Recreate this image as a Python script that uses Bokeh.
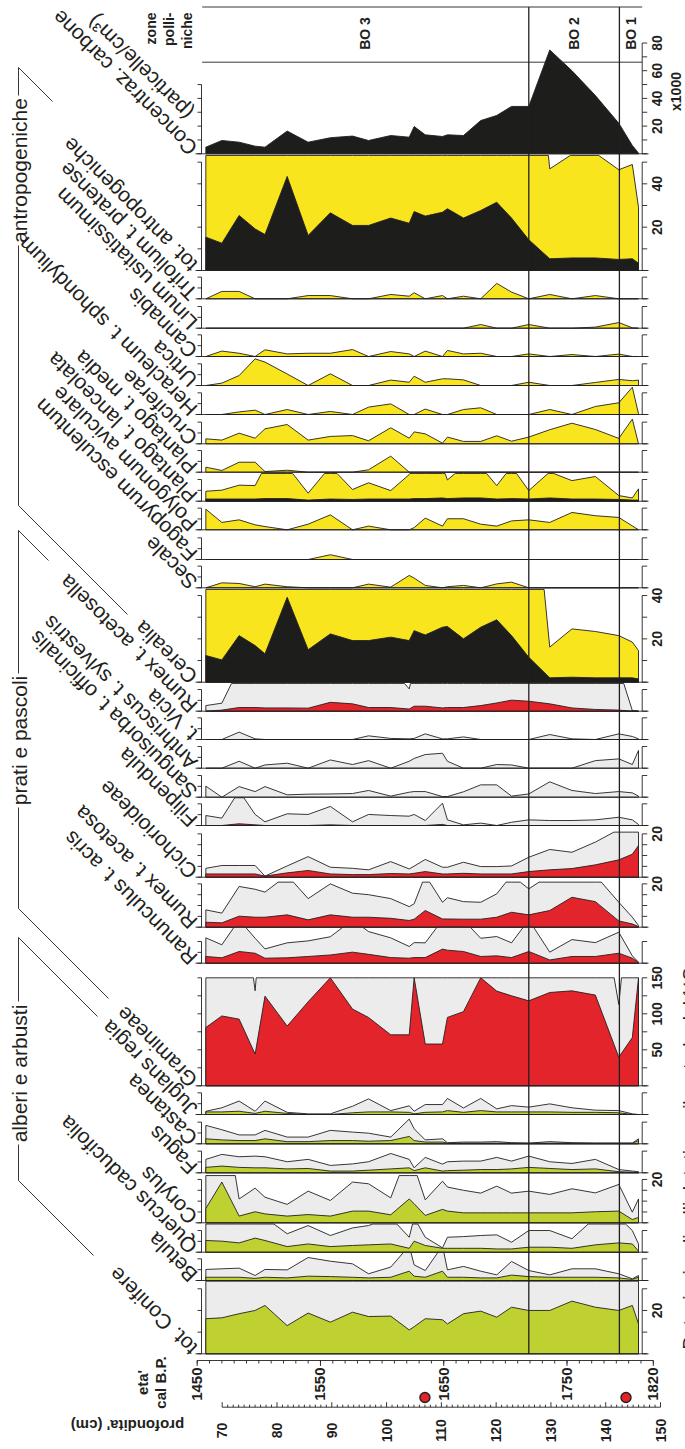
import numpy as np
from bokeh.plotting import figure
from bokeh.models import Range1d
from bokeh.embed import file_html
from bokeh.resources import INLINE
from bokeh.core.properties import value

# ---------------- data ----------------
AGE = [1457, 1470, 1484, 1497, 1505, 1523, 1540, 1558, 1576, 1589,
       1607, 1622, 1626, 1635, 1649, 1653, 1666, 1680, 1693, 1705,
       1719, 1736, 1754, 1773, 1792, 1803, 1808]

carbone = [4.8, 9.6, 8.4, 5.5, 4.8, 16.4, 8.4, 11.6, 12.8, 9.6,
           13.2, 12.0, 19.7, 13.7, 12.5, 13.7, 13.2, 24.0, 27.7, 34.2,
           34.2, 75.0, 60.0, 42.1, 22.1, 6.0, 0.5]
antrop = [15.4, 12.6, 25.4, 19.2, 16.6, 43.4, 16.2, 26.6, 20.8, 20.8,
          24.2, 21.8, 27.2, 25.1, 26.9, 28.5, 24.2, 27.7, 31.5, 24.2,
          14.2, 5.4, 5.8, 5.8, 5.1, 5.4, 3.4]
antrop_x = [150, 150, 150, 150, 150, 150, 150, 150, 150, 150,
            150, 150, 150, 150, 150, 150, 150, 150, 150, 150,
            142, 46.9, 53.6, 54.2, 46.5, 48.9, 29.2]
trifolium = [0, 3.4, 3.4, 0, 0, 0, 1.5, 1.5, 0, 0,
             2.0, 1.2, 2.8, 0, 1.5, 0, 1.2, 0, 7.1, 3.1,
             0, 2.0, 0, 1.5, 0, 0, 0]
linum = [0, 0, 0, 0, 0, 0, 0, 0, 0, 0,
         0, 0, 0, 0, 0, 0, 0, 1.7, 0, 0,
         1.7, 0, 0, 0.5, 2.6, 0.2, 0]
cannabis = [0, 2.5, 1.5, 0, 3.1, 1.2, 1.5, 1.5, 3.2, 0,
            2.3, 1.2, 0, 2.5, 0, 2.8, 1.2, 1.5, 0, 0,
            1.2, 0, 0.9, 0, 1.1, 0, 0]
urtica = [0, 1.1, 4.6, 12.3, 10.8, 5.3, 0, 5.4, 0, 0,
          2.5, 1.5, 4.3, 1.5, 3.1, 3.1, 2.6, 0, 0, 0,
          1.5, 0, 0, 1.4, 2.8, 2.2, 2.5]
heracleum = [0, 0, 1.2, 2.0, 0, 2.3, 0, 1.4, 0, 3.4,
             4.9, 0, 0, 2.5, 0, 0, 2.3, 3.1, 0, 0,
             0, 2.3, 0, 3.7, 5.4, 12.6, 0.3]
cruciferae = [2.3, 1.7, 4.9, 2.6, 6.9, 8.9, 1.7, 3.4, 3.8, 1.4,
              7.4, 2.6, 5.5, 4.6, 0.3, 3.1, 1.1, 1.1, 3.7, 1.2,
              3.1, 6.5, 9.5, 6.6, 2.5, 11.4, 0]
pl_media = [2.3, 0.8, 4.6, 4.6, 0.3, 0.9, 0, 0, 0, 1.1,
            7.4, 0, 0, 0, 0, 0, 0, 0, 0, 0,
            0, 0, 0, 0, 0, 0, 0]
pl_lanc_x = [4.6, 5.1, 7.4, 7.2, 16, 16, 3.7, 16, 5.4, 8.5,
             4.9, 12.3, 16, 16, 16, 9.8, 16, 16, 7.2, 16,
             4.9, 13.5, 9.5, 11.4, 2.6, 1.5, 5.7]
pl_lanc = [1.0, 1.0, 1.0, 1.0, 1.2, 1.2, 0.5, 1.0, 0.8, 1.0,
           1.0, 1.0, 1.2, 1.2, 1.5, 1.2, 1.5, 1.5, 1.0, 1.2,
           1.0, 1.5, 1.0, 1.0, 0.8, 0.5, 0.5]
polygonum = [9.5, 3.4, 4.6, 2.3, 1.5, 0, 2.6, 6.9, 0, 1.7,
             0, 0, 1.0, 5.4, 1.7, 5.1, 5.1, 2.6, 1.7, 4.1,
             4.6, 3.4, 8.0, 6.5, 5.7, 1.8, 0]
fagopyrum = [0, 0, 0, 0, 0, 0, 0, 2.2, 0, 0,
             0, 0, 0, 0, 0, 0, 0, 0, 0, 0,
             0, 0, 0, 0, 0, 0, 0]
secale = [0, 2.3, 2.0, 0.5, 1.7, 0.5, 0, 0, 0, 1.7,
          0.3, 5.7, 4.5, 1.1, 0, 0.5, 1.1, 0, 1.8, 2.6,
          0, 0, 0, 0, 0, 0, 0]
cerealia = [12.3, 10.3, 21.5, 16.9, 13.1, 39.2, 15.0, 22.3, 19.2, 19.2,
            20.8, 19.2, 23.8, 21.8, 25.4, 25.7, 20.0, 25.4, 28.8, 21.5,
            11.5, 2.0, 2.3, 2.0, 2.0, 2.0, 1.5]
cerealia_x = [150, 150, 150, 150, 150, 150, 150, 150, 150, 150,
              150, 150, 150, 150, 150, 150, 150, 150, 150, 150,
              115, 16.2, 24.6, 23.4, 21.5, 18.5, 14.6]
rumex_acl = [0, 0.5, 1.7, 1.7, 1.5, 1.5, 1.4, 4.1, 3.4, 1.7,
             1.7, 1.0, 2.3, 2.3, 1.5, 1.7, 1.7, 2.6, 3.8, 5.1,
             4.6, 3.4, 1.5, 0.8, 0.5, 0, 0]
rumex_acl_x = [2.6, 3.7, 20, 20, 20, 20, 20, 20, 20, 20,
               20, 10.3, 20, 20, 20, 20, 20, 20, 20, 20,
               20, 20, 20, 20, 20, 0.3, 0]
vicia_x = [0, 0, 3.4, 0.3, 0, 0, 0, 0, 0, 1.7,
           0.5, 0.3, 0.5, 2.6, 0.3, 0.3, 1.2, 0, 0, 0,
           0, 2.3, 0.3, 0, 2.6, 1.4, 0.3]
anthriscus_x = [0, 0, 3.2, 0, 1.5, 2.3, 0, 3.8, 1.7, 3.5,
                0, 3.2, 4.5, 6.3, 6.9, 3.2, 0, 0, 1.7, 1.5,
                0, 0, 0, 3.5, 4.3, 1.7, 8.2]
sanguisorba_x = [5.1, 0, 4.9, 2.6, 4.9, 1.1, 1.4, 1.5, 1.7, 3.1,
                 0.5, 2.3, 2.6, 2.6, 0.3, 0.3, 2.5, 5.7, 5.7, 0.5,
                 1.5, 7.1, 3.1, 1.7, 2.6, 2.0, 0.5]
filipendula_x = [4.6, 3.4, 16, 5.1, 1.7, 5.4, 5.1, 8.8, 1.7, 5.1,
                 4.6, 4.3, 5.1, 2.3, 10.3, 2.6, 0.3, 1.1, 0, 1.5,
                 2.6, 2.3, 2.3, 2.6, 3.8, 2.6, 0.5]
filipendula = [0, 0, 0.8, 0.3, 0, 0, 0, 0.3, 0, 0,
               0, 0, 0, 0, 0.5, 0, 0, 0, 0, 0,
               0, 0, 0, 0, 0, 0, 0]
cichor_x = [4.1, 5.4, 5.4, 5.4, 0.5, 5.2, 9.5, 4.6, 4.1, 3.4,
            7.2, 3.8, 5.1, 8.2, 4.6, 4.6, 6.9, 4.9, 4.9, 5.2,
            9.2, 12.8, 11.5, 16.2, 22, 25, 25]
cichor = [1.5, 1.5, 1.5, 1.5, 0.5, 2.0, 3.1, 1.5, 1.2, 1.2,
          1.7, 1.5, 1.8, 2.6, 1.5, 1.5, 1.8, 1.5, 1.5, 1.5,
          2.6, 3.4, 4.0, 5.7, 8.0, 10.6, 14.6]
rumex_ac_x = [8.0, 6.5, 18.8, 17.5, 16.2, 24, 13.2, 20, 15.7, 15,
              13.2, 9.5, 10.8, 24, 11.5, 13.6, 11.8, 11.5, 15.4, 24,
              17.7, 24, 24, 24, 11.5, 4.6, 0.8]
rumex_ac = [2.3, 2.0, 5.1, 4.6, 4.6, 5.7, 3.4, 5.7, 4.6, 4.6,
            4.1, 3.1, 3.7, 7.7, 3.8, 3.8, 3.7, 3.7, 4.6, 6.9,
            5.7, 7.7, 13.8, 11.8, 2.9, 1.5, 0.3]
ranunc_x = [11.7, 8.5, 20, 11.5, 6.6, 9.4, 10.3, 12.2, 20, 14.6,
            11.7, 7.7, 9.5, 9.4, 20, 20, 20, 11.5, 12.3, 9.4,
            20, 5.1, 10.9, 9.5, 14.3, 3.4, 0.5]
ranunc = [3.1, 2.5, 5.4, 4.6, 2.3, 2.5, 3.1, 3.8, 5.1, 4.1,
          2.6, 2.3, 2.6, 2.6, 6.5, 6.0, 5.4, 3.1, 3.4, 2.6,
          5.4, 1.5, 3.1, 3.1, 4.6, 2.3, 0.3]
gramineae = [81, 97, 92.6, 44, 124.5, 83, 116.7, 150, 106.5, 94.9,
             70.8, 70.8, 150, 58, 58, 95, 103, 150, 131.5, 125,
             118, 129.6, 131.9, 126, 39.8, 67, 150]
gramineae_x = [300, 300, 300, 132, 300, 300, 300, 300, 300, 300,
               300, 300, 300, 300, 300, 300, 300, 300, 300, 300,
               300, 300, 300, 300, 113, 300, 300]
juglans_x = [1.5, 3.1, 6.2, 1.5, 6.2, 1.0, 0.3, 0.3, 3.8, 7.2,
             1.8, 4.0, 1.5, 4.6, 4.6, 7.4, 3.0, 7.4, 2.6, 4.1,
             3.4, 4.9, 3.1, 2.0, 1.8, 0.3, 0]
juglans = [1.2, 1.2, 1.5, 0.5, 1.5, 0.5, 0, 0, 0.8, 1.2,
           1.2, 1.0, 0.3, 1.0, 1.2, 1.8, 1.0, 1.8, 1.2, 1.2,
           1.2, 1.2, 1.0, 1.0, 0.8, 0, 0]
castanea_x = [8.5, 6.5, 4.1, 4.1, 6.2, 3.1, 3.1, 6.2, 5.4, 4.9,
              3.1, 11.4, 6.9, 1.8, 2.3, 0.5, 0.8, 0.8, 1.0, 0.5,
              0.3, 1.0, 0.5, 0.3, 0.3, 0.3, 2.3]
castanea = [2.3, 1.8, 1.5, 1.5, 2.3, 1.0, 1.0, 1.5, 1.5, 1.2,
            1.5, 3.4, 1.5, 0.8, 0.8, 0.3, 0.3, 0.3, 0.3, 0.3,
            0.3, 0.3, 0.3, 0.3, 0.3, 0.3, 1.5]
fagus_x = [6.2, 8.5, 7.4, 7.7, 7.4, 5.1, 6.2, 3.4, 4.1, 5.1,
           8.9, 6.2, 2.3, 7.1, 4.0, 5.1, 5.4, 5.4, 7.1, 5.4,
           7.7, 5.1, 4.3, 6.2, 1.5, 0.8, 0.5]
fagus = [2.5, 3.1, 2.5, 2.3, 2.3, 1.8, 2.0, 0.8, 0.8, 1.2,
         1.8, 2.3, 1.0, 2.3, 0.8, 1.0, 1.2, 1.5, 1.5, 1.8,
         2.5, 2.0, 1.5, 1.8, 0.5, 0.3, 0]
corylus_x = [60, 60, 11, 16, 11.8, 8.5, 14.6, 10.3, 18.8, 18,
             11.5, 34, 26, 10.6, 19.2, 16.5, 15, 13.7, 16.9, 13.7,
             14.6, 13.1, 15.7, 13.8, 17.7, 4.9, 11]
corylus = [6.6, 18.8, 3.1, 5.1, 4.1, 3.1, 3.8, 3.1, 5.4, 5.4,
           3.7, 11.0, 8.8, 3.4, 6.2, 5.4, 4.6, 4.6, 4.6, 4.6,
           4.6, 4.6, 4.6, 5.1, 5.4, 1.5, 2.5]
quercus_x = [16, 16, 16, 16, 16, 8.5, 12.3, 7.7, 11.2, 12.3,
             16, 6.9, 16, 6.9, 2.0, 6.9, 7.2, 7.7, 8.0, 4.6,
             10, 10, 6.2, 16, 16, 10, 3.8]
quercus = [5.4, 5.1, 4.3, 6.5, 5.4, 2.6, 3.8, 2.6, 3.1, 3.4,
           3.8, 1.8, 5.1, 3.1, 1.8, 1.8, 1.8, 1.8, 1.5, 1.5,
           2.3, 2.3, 1.8, 3.4, 4.3, 3.8, 0.5]
betula_x = [5.1, 5.4, 5.7, 2.3, 5.1, 4.9, 10.6, 8.9, 7.7, 3.1,
            6.2, 16, 7.2, 4.6, 16, 4.9, 6.5, 4.3, 2.6, 8.8,
            4.6, 2.6, 5.4, 5.4, 3.1, 0.8, 2.3]
betula = [1.5, 1.5, 1.5, 1.0, 1.5, 1.2, 2.0, 1.8, 1.5, 1.2,
          1.5, 4.3, 2.0, 1.5, 4.3, 1.5, 1.5, 1.2, 1.2, 2.5,
          1.8, 1.5, 1.5, 1.5, 1.2, 0.5, 1.5]
conifere_x = [60, 60, 60, 60, 60, 60, 60, 60, 60, 60,
              60, 60, 60, 60, 60, 60, 60, 60, 60, 60,
              60, 60, 60, 60, 60, 60, 60]
conifere = [16.2, 16.6, 18.5, 20.0, 22.3, 13.0, 18.8, 14.6, 19.2, 17.2,
            17.4, 11.0, 12.5, 16.2, 15.7, 13.8, 18.5, 19.7, 16.9, 21.5,
            20.0, 20.0, 24.3, 21.5, 20.0, 22.3, 13.8]

ZONE_BOUNDS = [1719, 1792.5]
ZONE_NAMES = ["BO 3", "BO 2", "BO 1"]
AGE_TICKS = [1450, 1550, 1650, 1750, 1820]
DEPTH_TICKS = list(range(70, 151, 10))
DATED_DEPTHS = [107, 143.7]
GROUPS = ["antropogeniche", "prati e pascoli", "alberi e arbusti"]

# ---------------- styles / layout ----------------
INK = "#231f20"
YEL = "#f9e51e"
RED = "#e3242b"
GRN = "#bfd130"
BLK = "#1d1d1b"
GRY = "#ececec"
FONT = value("Liberation Sans")

W, H = 685, 1449
OFF = 0
A0PX, ASC = 196.7, 1.2327     # page px of age 1450, px per year
D0PX, DSC = 221.7, 5.479      # page px of depth 70 cm, px per cm


def px2age(px):
    return 1450 + (px - A0PX) / ASC


def px2depth(px):
    return 70 + (px - D0PX) / DSC


p = figure(width=W, height=H, x_range=Range1d(px2age(OFF), px2age(OFF + W)),
           y_range=Range1d(OFF + H, OFF), output_backend="svg",
           toolbar_location=None, x_axis_location=None, y_axis_location=None,
           min_border=0)
p.extra_x_ranges = {"depth": Range1d(px2depth(OFF), px2depth(OFF + W))}
p.grid.visible = False
p.outline_line_color = None
p.background_fill_color = "white"
p.border_fill_color = "white"

S = dict(x0=[], y0=[], x1=[], y1=[])


def seg(x0, y0, x1, y1):
    S["x0"].append(x0); S["y0"].append(y0); S["x1"].append(x1); S["y1"].append(y1)


def clip_line(xs, vs, vmax):
    ox, ov = [xs[0]], [min(vs[0], vmax)]
    for i in range(1, len(xs)):
        x0, v0, x1, v1 = xs[i - 1], vs[i - 1], xs[i], vs[i]
        if (v0 - vmax) * (v1 - vmax) < 0:
            t = (vmax - v0) / (v1 - v0)
            ox.append(x0 + t * (x1 - x0)); ov.append(vmax)
        ox.append(x1); ov.append(min(v1, vmax))
    return ox, ov


U = 2.167


def small(label, series, B, clip=12.8):
    return dict(label=label, series=series, B=B, u=U, ltop=10, lstep=5,
                rtop=10, rstep=10, rlab=[], clip=clip)


PANELS = [
    dict(label="Concentraz. carbone", series=[(carbone, BLK)], B=153.3, u=1.385,
         ltop=50, lstep=10, rtop=80, rstep=10, rlab=[20, 40, 60, 80], clip=200),
    dict(label="tot. antropogeniche", series=[(antrop_x, YEL), (antrop, BLK)], B=270.0, u=U,
         ltop=50, lstep=10, rtop=50, rstep=10, rlab=[20, 40], clip=53.1),
    small("Trifolium t. pratense", [(trifolium, YEL)], 298.3),
    small("Linum usitatissimum", [(linum, YEL)], 327.7),
    small("Cannabis", [(cannabis, YEL)], 356.0),
    small("Urtica", [(urtica, YEL)], 385.0, clip=13.4),
    small("Heracleum t. sphondylium", [(heracleum, YEL)], 414.0, clip=13.4),
    small("Cruciferae", [(cruciferae, YEL)], 443.3),
    small("Plantago t. media", [(pl_media, YEL)], 471.7),
    small("Plantago t. lanceolata", [(pl_lanc_x, YEL), (pl_lanc, BLK)], 500.7),
    small("Polygonum aviculare", [(polygonum, YEL)], 529.3),
    small("Fagopyrum esculentum", [(fagopyrum, YEL)], 559.0),
    small("Secale", [(secale, YEL)], 587.3),
    dict(label="Cerealia", series=[(cerealia_x, YEL), (cerealia, BLK)], B=681.7, u=U,
         ltop=40, lstep=10, rtop=40, rstep=10, rlab=[20, 40], clip=42.8),
    small("Rumex t. acetosella", [(rumex_acl_x, GRY), (rumex_acl, RED)], 710.7),
    small("t. Vicia", [(vicia_x, GRY)], 739.0),
    small("Anthriscus t. sylvestris", [(anthriscus_x, GRY)], 767.7),
    small("Sanguisorba t. officinalis", [(sanguisorba_x, GRY)], 796.7),
    small("Filipendula", [(filipendula_x, GRY), (filipendula, RED)], 825.0),
    dict(label="Cichorioideae", series=[(cichor_x, GRY), (cichor, RED)], B=876.7, u=U,
         ltop=20, lstep=5, rtop=20, rstep=5, rlab=[20], clip=20.8),
    dict(label="Rumex t. acetosa", series=[(rumex_ac_x, GRY), (rumex_ac, RED)], B=926.7, u=U,
         ltop=20, lstep=5, rtop=20, rstep=5, rlab=[20], clip=20.8),
    small("Ranunculus t. acris", [(ranunc_x, GRY), (ranunc, RED)], 962.7, clip=16.6),
    dict(label="Gramineae", series=[(gramineae_x, GRY), (gramineae, RED)], B=1085.3, u=0.72,
         ltop=150, lstep=25, rtop=150, rstep=25, rlab=[50, 100, 150], clip=150),
    small("Juglans regia", [(juglans_x, GRY), (juglans, GRN)], 1114.0),
    small("Castanea", [(castanea_x, GRY), (castanea, GRN)], 1143.3),
    small("Fagus", [(fagus_x, GRY), (fagus, GRN)], 1172.3),
    dict(label="Corylus", series=[(corylus_x, GRY), (corylus, GRN)], B=1222.3, u=U,
         ltop=20, lstep=5, rtop=20, rstep=5, rlab=[20], clip=21.8),
    small("Quercus caducifolia", [(quercus_x, GRY), (quercus, GRN)], 1251.7, clip=13.0),
    small("Betula", [(betula_x, GRY), (betula, GRN)], 1280.0, clip=13.0),
    dict(label="tot. Conifere", series=[(conifere_x, GRY), (conifere, GRN)], B=1353.3, u=U,
         ltop=30, lstep=10, rtop=30, rstep=10, rlab=[20], clip=33.5),
]

XL, XLT = px2age(201), px2age(197)
XR, XRT = px2age(641.7), px2age(646.7)
XB0, XB1 = px2age(195), px2age(648)

lab_x, lab_y, lab_t = [], [], []
rl_x, rl_y, rl_t = [], [], []
for pn in PANELS:
    B, u = pn["B"], pn["u"]
    for vals, col in pn["series"]:
        ox, ov = clip_line(AGE, vals, pn["clip"])
        xs = [ox[0]] + ox + [ox[-1]]
        ys = [B] + [B - v * u for v in ov] + [B]
        p.patch(xs, ys, fill_color=col, line_color=INK, line_width=0.9)
    seg(XB0, B, XB1, B)
    seg(XL, B, XL, B - pn["ltop"] * u)
    for v in np.arange(0, pn["ltop"] + 1e-6, pn["lstep"]):
        seg(XLT, B - v * u, XL, B - v * u)
    seg(XR, B, XR, B - pn["rtop"] * u)
    for v in np.arange(0, pn["rtop"] + 1e-6, pn["rstep"]):
        seg(XR, B - v * u, XRT, B - v * u)
    for v in pn["rlab"]:
        rl_x.append(px2age(656)); rl_y.append(B - v * u); rl_t.append(str(v))
    lab_x.append(px2age(193)); lab_y.append(B - 2); lab_t.append(pn["label"])

# zones
ZL, ZR = px2age(201.7), px2age(641.7)
seg(ZL, 6.5, ZR, 6.5)
seg(ZL, 61.7, ZR, 61.7)
p.segment(x0=ZONE_BOUNDS, y0=[6.5] * len(ZONE_BOUNDS), x1=ZONE_BOUNDS,
          y1=[PANELS[-1]["B"]] * len(ZONE_BOUNDS), line_color=INK, line_width=1.3)
edges = [ZL] + ZONE_BOUNDS + [ZR]
p.text(x=[(edges[i] + edges[i + 1]) / 2 for i in range(3)], y=[33] * 3, text=ZONE_NAMES,
       angle=np.pi / 2, text_align="center", text_baseline="middle", text_font=FONT,
       text_font_size="14px", text_font_style="bold", text_color=INK)
p.text(x=[px2age(v) for v in (150, 168, 186)], y=[12] * 3, text=["zone", "polli-", "niche"],
       angle=np.pi / 2, text_align="right", text_baseline="middle", text_font=FONT,
       text_font_size="14px", text_font_style="bold", text_color=INK)
p.text(x=[px2age(675)], y=[91], text=["x1000"], angle=np.pi / 2, text_align="center",
       text_baseline="middle", text_font=FONT, text_font_size="14px",
       text_font_style="bold", text_color=INK)

# age axis
AY = 1360
seg(1450, AY, 1820, AY)
for a in range(1450, 1821, 10):
    seg(a, AY, a, AY + 3)
for a in AGE_TICKS:
    seg(a, AY, a, AY + 5.5)
p.text(x=AGE_TICKS, y=[AY + 7] * len(AGE_TICKS), text=[str(a) for a in AGE_TICKS],
       angle=np.pi / 2, text_align="right", text_baseline="middle", text_font=FONT,
       text_font_size="15px", text_font_style="bold", text_color=INK)
p.text(x=[px2age(142), px2age(160)], y=[1382, 1382], text=["eta'", "cal B.P."],
       angle=np.pi / 2, text_align="center", text_baseline="middle", text_font=FONT,
       text_font_size="15px", text_font_style="bold", text_color=INK)

# depth axis
DY = 1406.7
DS = dict(x0=[70], y0=[DY], x1=[150], y1=[DY])
for d in range(70, 151):
    DS["x0"].append(d); DS["x1"].append(d); DS["y0"].append(DY)
    DS["y1"].append(DY - (5 if d % 10 == 0 else 2.5))
p.segment(x0=DS["x0"], y0=DS["y0"], x1=DS["x1"], y1=DS["y1"], x_range_name="depth",
          line_color=INK, line_width=0.9)
p.text(x=DEPTH_TICKS, y=[1430] * len(DEPTH_TICKS), text=[str(d) for d in DEPTH_TICKS],
       x_range_name="depth", angle=np.pi / 2, text_align="center", text_baseline="middle",
       text_font=FONT, text_font_size="14px", text_font_style="bold", text_color=INK)
p.scatter(x=DATED_DEPTHS, y=[1397] * len(DATED_DEPTHS), x_range_name="depth", size=10,
          fill_color=RED, line_color=INK, line_width=1.4)
p.text(x=[px2age(127)], y=[1425], text=["profondita' (cm)"], angle=np.pi,
       text_align="center", text_baseline="middle", text_font=FONT, text_font_size="15px",
       text_font_style="bold", text_color=INK)

# group brackets
BR = [((18, 67), (52, 101)), ((18, 67), (18, 95)), ((18, 245), (18, 505)), ((18, 505), (127, 614)),
      ((18, 530), (48, 560)), ((18, 530), (18, 673)), ((18, 807), (18, 908)), ((18, 908), (108, 998)),
      ((18, 937), (97, 1016)), ((18, 937), (18, 1001)), ((18, 1144), (18, 1180)), ((18, 1180), (93, 1255))]
for (a, b) in BR:
    seg(px2age(a[0]), a[1], px2age(b[0]), b[1])
p.text(x=[px2age(19)] * 3, y=[170, 740, 1073], text=GROUPS, angle=np.pi / 2,
       text_align="center", text_baseline="middle", text_font=FONT, text_font_size="21px",
       text_color=INK)

p.segment(x0=S["x0"], y0=S["y0"], x1=S["x1"], y1=S["y1"], line_color=INK, line_width=0.9)

# taxon labels
p.text(x=lab_x, y=lab_y, text=lab_t, angle=3 * np.pi / 4, text_align="left",
       text_baseline="middle", text_font=FONT, text_font_size="21px", text_color=INK)
# second line of the charcoal label
L1 = 9.28 * 21 / np.sqrt(2) / 2
p.text(x=[px2age(193 - L1 + 15.5)], y=[151.3 - L1 - 15.5], text=["(particelle/cm³)"],
       angle=3 * np.pi / 4, text_align="center", text_baseline="middle", text_font=FONT,
       text_font_size="21px", text_color=INK)
# right value labels
p.text(x=rl_x, y=rl_y, text=rl_t, angle=np.pi / 2, text_align="center",
       text_baseline="middle", text_font=FONT, text_font_size="14px",
       text_font_style="bold", text_color=INK)
# caption cut by the right edge, as in the reference
p.text(x=[px2age(678)], y=[1349], text=["Datazioni: \u25cf livelli datati con il metodo del \u00b9\u2074C"],
       angle=np.pi / 2, text_align="left", text_baseline="top", text_font=FONT,
       text_font_size="19px", text_color=INK)

open("out.html", "w").write(file_html(p, INLINE))
